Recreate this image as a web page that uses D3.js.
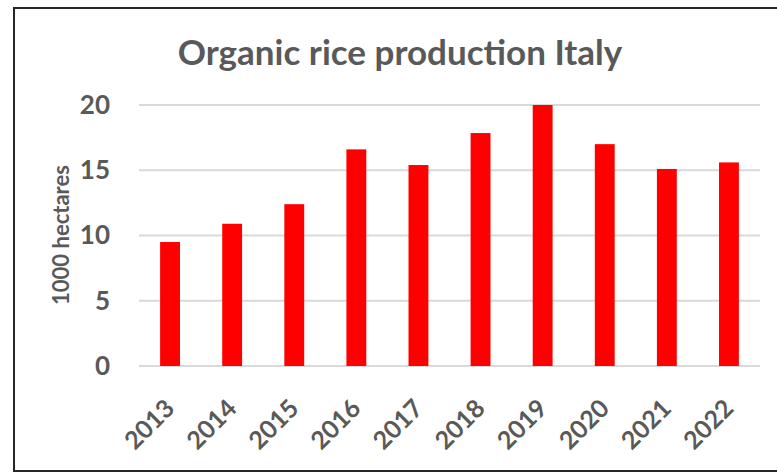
<!DOCTYPE html>
<html>
<head>
<meta charset="utf-8">
<script src="https://cdn.jsdelivr.net/npm/d3@7"></script>
<style>
  body { margin: 0; background: #fff; }
  svg { display: block; font-family: Lato, "Open Sans", sans-serif; }
</style>
</head>
<body>
<div id="chart"></div>
<script>
// data
var years = ["2013", "2014", "2015", "2016", "2017", "2018", "2019", "2020", "2021", "2022"];
var hectares = [9.5, 10.9, 12.4, 16.6, 15.4, 17.85, 20.0, 17.0, 15.1, 15.6];
var yTicks = [0, 5, 10, 15, 20];

var W = 777, H = 472;
var margin = { top: 105, right: 17, bottom: 106, left: 139 };

var svg = d3.select("#chart").append("svg")
    .attr("width", W)
    .attr("height", H);

// frame (right edge is cut off in the original)
svg.append("rect")
    .attr("x", 14).attr("y", 8)
    .attr("width", 820).attr("height", 463)
    .attr("fill", "none")
    .attr("stroke", "#262626")
    .attr("stroke-width", 2);

var x = d3.scaleBand()
    .domain(years)
    .range([margin.left, W - margin.right])
    .paddingInner(0.68)
    .paddingOuter(0.34);

var y = d3.scaleLinear()
    .domain([0, 20])
    .range([H - margin.bottom, margin.top]);

// gridlines
svg.append("g")
    .selectAll("line")
    .data(yTicks)
    .enter().append("line")
    .attr("x1", margin.left).attr("x2", W - margin.right)
    .attr("y1", d => y(d)).attr("y2", d => y(d))
    .attr("stroke", "#d9d9d9")
    .attr("stroke-width", 2);

// bars
svg.append("g")
    .selectAll("rect")
    .data(hectares)
    .enter().append("rect")
    .attr("x", (d, i) => x(years[i]))
    .attr("width", x.bandwidth())
    .attr("y", d => y(d))
    .attr("height", d => y(0) - y(d))
    .attr("fill", "#ff0000");

// y axis labels
var yAxis = svg.append("g")
    .attr("transform", "translate(" + (margin.left - 29) + ",0)")
    .call(d3.axisLeft(y).tickValues(yTicks).tickSize(0).tickPadding(0));
yAxis.select(".domain").remove();
yAxis.selectAll("text")
    .attr("font-family", "Lato, sans-serif")
    .attr("font-size", 26)
    .attr("font-weight", "bold")
    .attr("fill", "#595959");

// x axis labels
var xAxis = svg.append("g")
    .attr("transform", "translate(0," + y(0) + ")")
    .call(d3.axisBottom(x).tickSize(0).tickPadding(0));
xAxis.select(".domain").remove();
xAxis.selectAll("text")
    .attr("font-family", "Lato, sans-serif")
    .attr("font-size", 25)
    .attr("font-weight", "bold")
    .attr("fill", "#595959")
    .attr("text-anchor", "end")
    .attr("dy", 0)
    .attr("y", 0)
    .attr("transform", "translate(6,44) rotate(-45)");

// y axis title
svg.append("text")
    .attr("transform", "translate(69,235) rotate(-90)")
    .attr("text-anchor", "middle")
    .attr("font-size", 22)
    .attr("font-weight", "bold")
    .attr("fill", "#595959")
    .text("1000 hectares");

// title
svg.append("text")
    .attr("x", 400).attr("y", 65)
    .attr("text-anchor", "middle")
    .attr("font-size", 35)
    .attr("font-weight", "bold")
    .attr("fill", "#595959")
    .text("Organic rice production Italy");
</script>
</body>
</html>
